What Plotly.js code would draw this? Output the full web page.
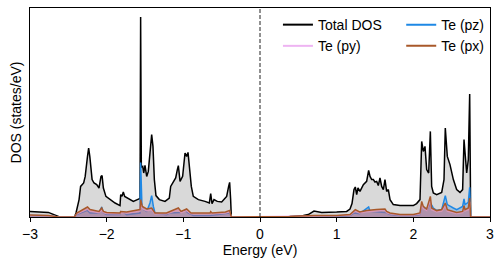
<!DOCTYPE html>
<html>
<head>
<meta charset="utf-8">
<script src="https://cdn.plot.ly/plotly-3.0.1.min.js"></script>
<style>html,body{margin:0;padding:0;background:#fff;}#chart{width:503px;height:262px;}</style>
</head>
<body>
<div id="chart"></div>
<script>
// Total DOS
const totalE = [-3.00,-2.76,-2.63,-2.61,-2.42,-2.40,-2.36,-2.34,-2.30,-2.28,-2.25,-2.235,-2.22,-2.19,-2.165,-2.13,-2.10,-2.074,-2.06,-2.043,-2.01,-1.957,-1.89,-1.826,-1.817,-1.80,-1.783,-1.765,-1.717,-1.652,-1.60,-1.565,-1.557,-1.553,-1.548,-1.530,-1.517,-1.500,-1.478,-1.457,-1.435,-1.413,-1.396,-1.378,-1.357,-1.313,-1.239,-1.183,-1.165,-1.143,-1.10,-1.078,-1.065,-1.043,-1.009,-0.978,-0.957,-0.939,-0.922,-0.896,-0.87,-0.804,-0.717,-0.661,-0.643,-0.626,-0.60,-0.557,-0.50,-0.435,-0.409,-0.396,-0.383,-0.374,0.35,0.39,0.565,0.63,0.704,0.739,0.804,1.00,1.13,1.174,1.20,1.226,1.243,1.261,1.278,1.304,1.348,1.391,1.417,1.435,1.457,1.478,1.50,1.522,1.543,1.565,1.587,1.609,1.630,1.652,1.674,1.696,1.739,1.826,2.00,2.043,2.087,2.109,2.13,2.152,2.174,2.20,2.222,2.239,2.261,2.304,2.37,2.40,2.417,2.443,2.478,2.522,2.565,2.609,2.643,2.661,2.674,2.696,2.717,2.735,2.748,3.00];
const totalDOS = [0.27,0.23,0.03,0,0,0.20,0.87,1.53,1.70,2.03,3.03,3.45,3.03,1.87,1.70,1.62,1.45,2.03,2.07,1.45,1.03,0.87,0.70,0.57,1.12,1.03,1.25,1.03,0.92,0.78,0.87,0.93,10.0,5.87,2.50,2.53,2.20,2.58,2.03,2.28,3.37,4.12,3.53,1.87,1.07,0.87,0.78,0.95,1.53,1.70,1.95,2.37,2.57,1.78,2.03,3.20,3.03,3.23,2.53,1.53,1.03,0.87,0.78,0.70,1.17,0.67,0.87,0.78,0.75,1.03,1.53,1.73,0.87,0,0,0.03,0.07,0.12,0.30,0.27,0.23,0.25,0.28,0.40,0.67,1.37,1.50,1.12,1.45,1.28,1.62,1.78,2.33,2.03,1.87,1.87,1.75,1.78,1.57,1.95,1.53,1.37,1.87,1.28,1.37,0.87,0.62,0.57,0.57,0.67,0.87,3.78,3.28,3.53,2.37,2.20,4.28,1.53,1.20,1.12,1.23,1.87,4.45,3.03,2.62,1.87,1.37,1.23,1.37,3.87,3.03,2.20,2.87,6.15,0,0];

// Te (pz)
const pzE = [-3.00,-2.76,-2.63,-2.42,-2.39,-2.252,-2.217,-2.10,-2.065,-2.043,-2.00,-1.826,-1.817,-1.783,-1.74,-1.565,-1.557,-1.539,-1.517,-1.478,-1.435,-1.413,-1.391,-1.37,-1.22,-1.183,-1.04,-0.978,-0.935,-0.87,-0.65,-0.396,-0.374,0.39,1.00,1.174,1.226,1.30,1.417,1.435,1.52,1.63,1.696,1.826,2.00,2.087,2.109,2.13,2.174,2.222,2.26,2.304,2.37,2.417,2.443,2.522,2.565,2.643,2.661,2.674,2.717,2.735,2.748,3.00];
const pzDOS = [0.08,0.06,0,0,0.12,0.33,0.20,0.20,0.50,0.20,0.12,0.12,0.27,0.23,0.12,0.20,2.73,0.45,0.37,0.28,0.70,1.07,0.53,0.20,0.12,0.20,0.23,0.33,0.20,0.08,0.07,0.20,0,0,0.02,0.07,0.20,0.17,0.50,0.28,0.25,0.23,0.12,0.07,0.07,0.12,0.53,0.45,0.33,0.70,0.45,0.33,0.37,1.07,0.62,0.45,0.37,0.53,0.90,0.62,0.73,1.48,0,0];

// Te (py)
const pyE = [-3.00,-2.76,-2.63,-2.42,-2.39,-2.25,-2.217,-2.10,-2.065,-2.043,-2.00,-1.826,-1.817,-1.74,-1.565,-1.557,-1.535,-1.478,-1.413,-1.37,-1.22,-1.10,-1.065,-1.03,-0.978,-0.957,-0.90,-0.65,-0.643,-0.626,-0.45,-0.396,-0.374,0.39,0.70,1.00,1.174,1.226,1.243,1.30,1.391,1.52,1.63,1.652,1.696,1.826,2.00,2.087,2.109,2.13,2.174,2.222,2.239,2.304,2.37,2.417,2.443,2.565,2.643,2.661,2.674,2.717,2.735,2.748,3.00];
const pyDOS = [0.08,0.06,0,0,0.16,0.40,0.30,0.22,0.36,0.22,0.18,0.16,0.22,0.20,0.30,0.70,0.42,0.32,0.36,0.16,0.16,0.32,0.36,0.22,0.30,0.32,0.16,0.16,0.22,0.16,0.20,0.26,0,0.02,0.06,0.06,0.10,0.22,0.30,0.20,0.26,0.30,0.36,0.22,0.16,0.10,0.10,0.16,0.62,0.42,0.32,0.82,0.36,0.26,0.30,0.56,0.30,0.18,0.22,0.46,0.30,0.36,0.76,0,0];

// Te (px)
const pxE = [-3.00,-2.76,-2.63,-2.42,-2.39,-2.25,-2.217,-2.10,-2.065,-2.043,-2.00,-1.826,-1.817,-1.74,-1.565,-1.557,-1.535,-1.478,-1.413,-1.37,-1.22,-1.10,-1.065,-1.03,-0.978,-0.957,-0.90,-0.65,-0.643,-0.626,-0.45,-0.396,-0.374,0.39,0.70,1.00,1.174,1.226,1.243,1.30,1.391,1.52,1.63,1.652,1.696,1.826,2.00,2.087,2.109,2.13,2.174,2.222,2.239,2.304,2.37,2.417,2.443,2.565,2.643,2.661,2.674,2.717,2.735,2.748,3.00];
const pxDOS = [0.10,0.08,0,0,0.20,0.50,0.37,0.28,0.45,0.28,0.23,0.20,0.27,0.25,0.37,0.87,0.53,0.40,0.45,0.20,0.20,0.40,0.45,0.28,0.37,0.40,0.20,0.20,0.27,0.20,0.25,0.33,0,0.03,0.08,0.08,0.12,0.28,0.37,0.25,0.32,0.37,0.40,0.28,0.20,0.12,0.12,0.20,0.78,0.53,0.40,1.03,0.45,0.32,0.37,0.70,0.37,0.23,0.28,0.57,0.37,0.45,0.95,0,0];

const xTicks = [-3,-2,-1,0,1,2,3];
const seriesNames = ['Total DOS', 'Te (pz)', 'Te (py)', 'Te (px)'];
const lineColors = ['#000000', '#1E88E5', '#EEB4F2', '#A8582A'];
const fillColors = ['rgba(128,128,128,0.3)', 'rgba(30,136,229,0.3)', 'rgba(238,130,238,0.3)', 'rgba(160,82,45,0.3)'];
const legendOf = ['legend', 'legend2', 'legend', 'legend2'];

const FONT = 'Liberation Sans, Arial, sans-serif';
const FS = 14;

const xs = [totalE, pzE, pyE, pxE];
const ys = [totalDOS, pzDOS, pyDOS, pxDOS];

const traces = [];
// filled data traces (no legend entries)
for (let i = 0; i < 4; i++) {
  traces.push({x: xs[i], y: ys[i], name: seriesNames[i], mode: 'lines', fill: 'tozeroy',
    fillcolor: fillColors[i], line: {color: lineColors[i], width: 1.5}, showlegend: false});
}
// line-only legend entries
for (let i = 0; i < 4; i++) {
  traces.push({x: [null], y: [null], name: seriesNames[i], mode: 'lines',
    line: {color: lineColors[i], width: 2}, showlegend: true, legend: legendOf[i]});
}

const layout = {
  width: 503, height: 262,
  margin: {l: 30, r: 13, t: 8, b: 45},
  paper_bgcolor: '#ffffff', plot_bgcolor: '#ffffff',
  font: {family: FONT, size: FS, color: '#000'},
  xaxis: {
    range: [-3, 3], tickvals: xTicks, ticktext: xTicks.map(v => v < 0 ? '\u2212' + Math.abs(v) : String(v)),
    ticks: 'outside', ticklen: 4, tickwidth: 1, tickcolor: '#000',
    showline: true, linecolor: '#000', linewidth: 1, mirror: true,
    showgrid: false, zeroline: false,
    tickfont: {family: FONT, size: FS, color: '#000'},
    title: {text: 'Energy (eV)', font: {family: FONT, size: FS, color: '#000'}, standoff: 3}
  },
  yaxis: {
    range: [0, 10.45], showticklabels: false, ticks: '',
    showline: true, linecolor: '#000', linewidth: 1, mirror: true,
    showgrid: false, zeroline: false,
    title: {text: 'DOS (states/eV)', font: {family: FONT, size: FS, color: '#000'}, standoff: 4}
  },
  shapes: [{type: 'line', xref: 'x', yref: 'paper', x0: 0, x1: 0, y0: 0, y1: 1,
            line: {color: '#222', width: 1, dash: '4px,2px'}}],
  legend: {x: 0.539, y: 0.995, xanchor: 'left', yanchor: 'top', bgcolor: 'rgba(0,0,0,0)',
           font: {family: FONT, size: FS, color: '#000'}, tracegroupgap: 0},
  legend2: {x: 0.807, y: 0.995, xanchor: 'left', yanchor: 'top', bgcolor: 'rgba(0,0,0,0)',
            font: {family: FONT, size: FS, color: '#000'}, tracegroupgap: 0}
};

Plotly.newPlot('chart', traces, layout, {staticPlot: true, displayModeBar: false});
</script>
</body>
</html>
